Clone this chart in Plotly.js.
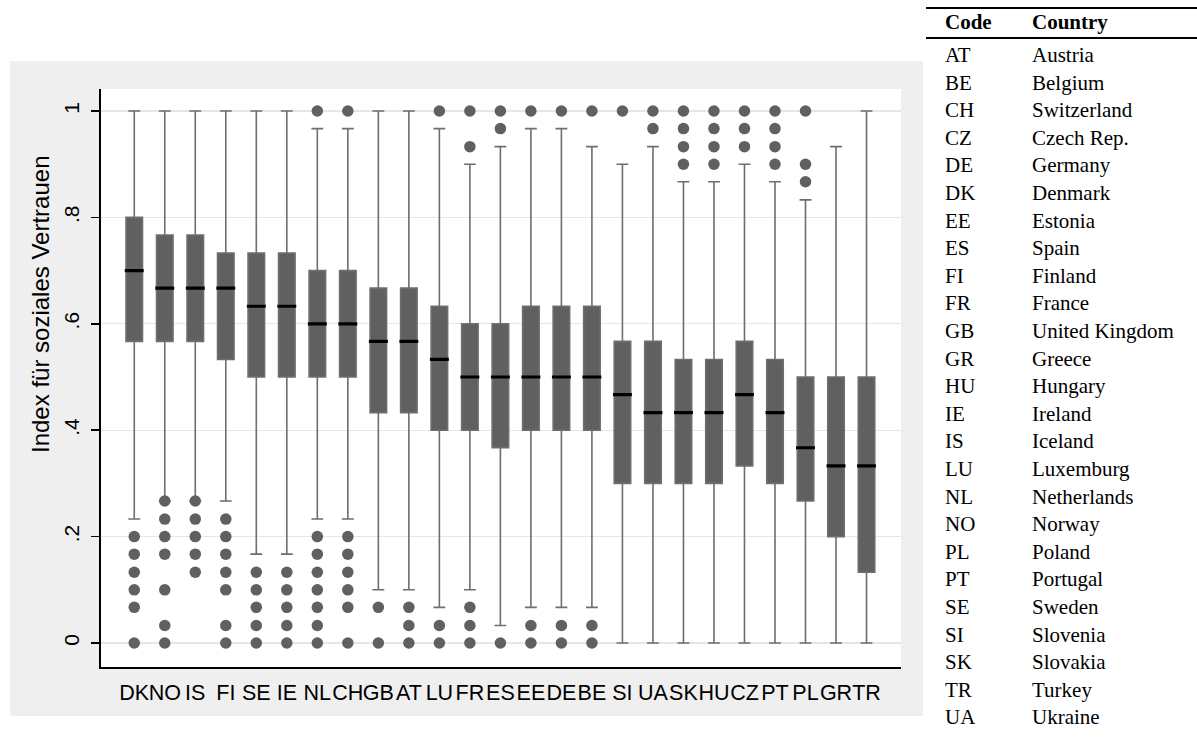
<!DOCTYPE html>
<html>
<head>
<meta charset="utf-8">
<script src="https://cdn.plot.ly/plotly-3.0.1.min.js"></script>
<style>
html,body{margin:0;padding:0;background:#ffffff;}
#chart{width:1197px;height:740px;}
</style>
</head>
<body>
<div id="chart"></div>
<script>
// ---------- data ----------
const countries = ['DK','NO','IS','FI','SE','IE','NL','CH','GB','AT','LU','FR','ES','EE','DE','BE','SI','UA','SK','HU','CZ','PT','PL','GR','TR'];
const q3     = [0.800,0.767,0.767,0.733,0.733,0.733,0.700,0.700,0.667,0.667,0.633,0.600,0.600,0.633,0.633,0.633,0.567,0.567,0.533,0.533,0.567,0.533,0.500,0.500,0.500];
const median = [0.700,0.667,0.667,0.667,0.633,0.633,0.600,0.600,0.567,0.567,0.533,0.500,0.500,0.500,0.500,0.500,0.467,0.433,0.433,0.433,0.467,0.433,0.367,0.333,0.333];
const q1     = [0.567,0.567,0.567,0.533,0.500,0.500,0.500,0.500,0.433,0.433,0.400,0.400,0.367,0.400,0.400,0.400,0.300,0.300,0.300,0.300,0.333,0.300,0.267,0.200,0.133];
const upperWhisker = [1,1,1,1,1,1,0.967,0.967,1,1,0.967,0.900,0.933,0.967,0.967,0.933,0.900,0.933,0.867,0.867,0.900,0.867,0.833,0.933,1];
const lowerWhisker = [0.233,0.267,0.267,0.267,0.167,0.167,0.233,0.233,0.100,0.100,0.067,0.100,0.033,0.067,0.067,0.067,0,0,0,0,0,0,0,0,0];
const outliers = [
  [0,0.067,0.1,0.133,0.167,0.2],                 // DK
  [0,0.033,0.1,0.167,0.2,0.233,0.267],           // NO
  [0.133,0.167,0.2,0.233,0.267],                 // IS
  [0,0.033,0.1,0.133,0.167,0.2,0.233],           // FI
  [0,0.033,0.067,0.1,0.133],                     // SE
  [0,0.033,0.067,0.1,0.133],                     // IE
  [0,0.033,0.067,0.1,0.133,0.167,0.2,1],         // NL
  [0,0.067,0.1,0.133,0.167,0.2,1],               // CH
  [0,0.067],                                     // GB
  [0,0.033,0.067],                               // AT
  [0,0.033,1],                                   // LU
  [0,0.033,0.067,0.933,1],                       // FR
  [0,0.967,1],                                   // ES
  [0,0.033,1],                                   // EE
  [0,0.033,1],                                   // DE
  [0,0.033,1],                                   // BE
  [1],                                           // SI
  [0.967,1],                                     // UA
  [0.9,0.933,0.967,1],                           // SK
  [0.9,0.933,0.967,1],                           // HU
  [0.933,0.967,1],                               // CZ
  [0.9,0.933,0.967,1],                           // PT
  [0.867,0.9,1],                                 // PL
  [],                                            // GR
  []                                             // TR
];
const yTickVals = [0,0.2,0.4,0.6,0.8,1];
const yTickText = ['0','.2','.4','.6','.8','1'];
const yTitle = 'Index für soziales Vertrauen';

const tableHeader = ['Code','Country'];
const tableCodes = ['AT','BE','CH','CZ','DE','DK','EE','ES','FI','FR','GB','GR','HU','IE','IS','LU','NL','NO','PL','PT','SE','SI','SK','TR','UA'];
const tableNames = ['Austria','Belgium','Switzerland','Czech Rep.','Germany','Denmark','Estonia','Spain','Finland','France','United Kingdom','Greece','Hungary','Ireland','Iceland','Luxemburg','Netherlands','Norway','Poland','Portugal','Sweden','Slovenia','Slovakia','Turkey','Ukraine'];

// ---------- geometry helpers (pixel -> paper) ----------
const W = 1197, H = 740;
const L = 101, R = 901, T = 89, B = 667;
const PW = R - L, PH = B - T;
const px = x => (x - L) / PW;
const py = y => (B - y) / PH;

const BOX = '#606060';
const SANS = 'Liberation Sans, Arial, Helvetica, sans-serif';
const SERIF = 'Liberation Serif, Times New Roman, serif';

// ---------- traces ----------
const boxTrace = {
  type: 'box', orientation: 'v',
  x: countries, q1: q1, median: median, q3: q3,
  lowerfence: lowerWhisker, upperfence: upperWhisker,
  boxpoints: false, width: 0.54, whiskerwidth: 0.72,
  fillcolor: BOX, line: {color: '#6e6e6e', width: 1.6},
  hoverinfo: 'skip', showlegend: false
};
const medianTrace = {
  type: 'box', orientation: 'v',
  x: countries, q1: median, median: median, q3: median,
  lowerfence: median, upperfence: median,
  boxpoints: false, width: 0.62, whiskerwidth: 0,
  fillcolor: '#000000', line: {color: '#000000', width: 3.2},
  hoverinfo: 'skip', showlegend: false
};
const ox = [], oy = [];
outliers.forEach((arr, i) => arr.forEach(v => { ox.push(countries[i]); oy.push(v); }));
const outlierTrace = {
  type: 'scatter', mode: 'markers', x: ox, y: oy,
  marker: {symbol: 'circle', size: 11.5, color: BOX, line: {width: 0}},
  hoverinfo: 'skip', showlegend: false
};

// ---------- table (annotations + rules) ----------
const annotations = [];
const codeX = 943, nameX = 1030;
const headerY = 22, firstRowY = 55, rowStep = 27.6;
const tFont = {family: SERIF, size: 21, color: '#000'};
annotations.push({xref:'paper', yref:'paper', x: px(codeX), y: py(headerY), xanchor:'left', yanchor:'middle',
  text: '<b>' + tableHeader[0] + '</b>', showarrow:false, font:tFont});
annotations.push({xref:'paper', yref:'paper', x: px(nameX), y: py(headerY), xanchor:'left', yanchor:'middle',
  text: '<b>' + tableHeader[1] + '</b>', showarrow:false, font:tFont});
tableCodes.forEach((c, i) => {
  const yy = firstRowY + i * rowStep;
  annotations.push({xref:'paper', yref:'paper', x: px(codeX), y: py(yy), xanchor:'left', yanchor:'middle',
    text: c, showarrow:false, font:tFont});
  annotations.push({xref:'paper', yref:'paper', x: px(nameX), y: py(yy), xanchor:'left', yanchor:'middle',
    text: tableNames[i], showarrow:false, font:tFont});
});
// y axis title
annotations.push({xref:'paper', yref:'paper', x: px(40), y: py(304), xanchor:'center', yanchor:'middle',
  text: yTitle, textangle: -90, showarrow:false, font:{family:SANS, size:24, color:'#000'}});

const shapes = [
  // grey graph region
  {type:'rect', xref:'paper', yref:'paper', x0:px(10), x1:px(923), y0:py(716), y1:py(61),
   fillcolor:'#efefef', line:{width:0}, layer:'below'},
  // white plot region
  {type:'rect', xref:'paper', yref:'paper', x0:0, x1:1, y0:0, y1:1,
   fillcolor:'#ffffff', line:{width:0}, layer:'below'},
  // table rules
  {type:'line', xref:'paper', yref:'paper', x0:px(926), x1:px(1197), y0:py(8), y1:py(8),
   line:{color:'#000', width:2.2}},
  {type:'line', xref:'paper', yref:'paper', x0:px(926), x1:px(1197), y0:py(38), y1:py(38),
   line:{color:'#000', width:2.2}}
];

const layout = {
  width: W, height: H,
  margin: {l: L, r: W - R, t: T, b: H - B, pad: 0},
  paper_bgcolor: '#ffffff', plot_bgcolor: '#ffffff',
  showlegend: false, boxmode: 'overlay',
  font: {family: SANS, color: '#000'},
  xaxis: {
    type: 'category', range: [-1.09, 25.13],
    tickmode: 'array', tickvals: countries, ticktext: countries, tickangle: 0,
    showgrid: false, zeroline: false, ticks: '',
    showline: true, linecolor: '#000', linewidth: 1.6,
    tickfont: {family: SANS, size: 21.5, color: '#000'},
    ticklabelstandoff: 6, fixedrange: true
  },
  yaxis: {
    range: [-0.0451, 1.0414],
    tickmode: 'array', tickvals: yTickVals, ticktext: yTickText, tickangle: -90,
    ticks: 'outside', ticklen: 8, tickwidth: 1.5, tickcolor: '#000',
    showline: true, linecolor: '#000', linewidth: 1.6,
    showgrid: true, gridcolor: '#e6e6e6', gridwidth: 1.2, zeroline: false,
    tickfont: {family: SANS, size: 21, color: '#000'},
    ticklabelstandoff: 4,
    fixedrange: true
  },
  shapes: shapes,
  annotations: annotations
};

Plotly.newPlot('chart', [boxTrace, medianTrace, outlierTrace], layout, {staticPlot: true, displayModeBar: false});
</script>
</body>
</html>
